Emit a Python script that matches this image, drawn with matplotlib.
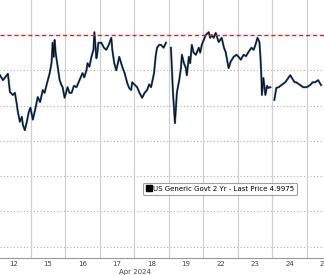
import numpy as np
import matplotlib.pyplot as plt

# trading days on the axis (each day takes one unit)
day_labels = ["12", "15", "16", "17", "18", "19", "22", "23", "24", "25"]

# intraday position (in day units) and yield
t = [0.107, 0.193, 0.308, 0.337, 0.395, 0.481, 0.539, 0.597, 0.625, 0.683,
     0.741, 0.769, 0.827, 0.885, 0.942, 0.99,
     1.058, 1.13, 1.202, 1.27, 1.346, 1.40, 1.461, 1.548, 1.60, 1.634, 1.663,
     1.692, 1.72, 1.778, 1.836, 1.88, 1.922, 1.98,
     2.066, 2.12, 2.182, 2.25, 2.326, 2.412, 2.499, 2.55, 2.614, 2.643, 2.70,
     2.758, 2.816, 2.844, 2.902, 2.931, 2.96,
     3.046, 3.12, 3.19, 3.26, 3.334, 3.363, 3.42, 3.478, 3.565, 3.651, 3.72,
     3.795, 3.85, 3.911, 3.939,
     4.084, 4.15, 4.228, 4.30, 4.372, 4.43, 4.487, 4.573, 4.62, 4.66, 4.72,
     4.775, 4.85, 4.919,
     None,
     5.063, 5.121, 5.179, 5.236, 5.30, 5.352, 5.38, 5.44, 5.496, 5.524, 5.582,
     5.62, 5.669, 5.72, 5.784, 5.87, 5.91, 5.957,
     6.072, 6.158, 6.20, 6.245, 6.30, 6.36, 6.447, 6.533, 6.60, 6.648, 6.735,
     6.793, 6.879, 6.965,
     7.023, 7.09, 7.167, 7.24, 7.311, 7.398, 7.46, 7.513, 7.571, 7.628, 7.657,
     7.686, 7.70, 7.744, 7.801, 7.85, 7.888, 7.945,
     None,
     8.06, 8.118, 8.19, 8.262, 8.377, 8.464, 8.521, 8.608, 8.65, 8.695, 8.81,
     8.896,
     9.00, 9.098, 9.17, 9.242, 9.329, 9.415]

yld = [4.993, 4.986, 4.993, 4.995, 4.969, 4.965, 4.968, 4.951, 4.941, 4.927,
       4.934, 4.923, 4.915, 4.927, 4.941, 4.947,
       4.930, 4.945, 4.962, 4.955, 4.972, 4.968, 4.980, 4.996, 5.010, 5.039, 5.019,
       5.043, 5.025, 5.005, 4.986, 4.980, 4.976, 4.961,
       4.976, 4.968, 4.968, 4.978, 4.976, 4.986, 4.996, 4.990, 5.000, 5.010, 5.005,
       5.019, 5.029, 5.054, 5.017, 5.025, 5.039,
       5.039, 5.032, 5.029, 5.036, 5.046, 5.029, 5.010, 5.000, 5.019, 5.005, 4.996,
       4.982, 4.975, 4.972, 4.983,
       4.976, 4.968, 4.961, 4.968, 4.972, 4.980, 4.976, 4.996, 5.020, 5.032, 5.036,
       5.036, 5.032, 5.039,
       np.nan,
       5.032, 4.969, 4.925, 4.969, 4.985, 5.003, 5.022, 5.010, 5.003, 4.993, 5.019,
       5.010, 5.036, 5.025, 5.022, 5.032, 5.025, 5.036,
       5.050, 5.054, 5.046, 5.050, 5.046, 5.053, 5.040, 5.046, 5.032, 5.026, 5.003,
       5.012, 5.019, 5.022,
       5.019, 5.015, 5.022, 5.020, 5.026, 5.032, 5.029, 5.036, 5.046, 5.040, 5.019,
       4.989, 4.965, 4.989, 4.965, 4.978, 4.975, 4.976,
       np.nan,
       4.958, 4.975, 4.976, 4.979, 4.983, 4.989, 4.993, 4.986, 4.983, 4.983, 4.979,
       4.976,
       4.976, 4.979, 4.983, 4.983, 4.986, 4.979]

t = [np.nan if v is None else v for v in t]

red_level = 5.05
y_grid = [4.75, 4.80, 4.85, 4.90, 4.95, 5.00, 5.05]

fig = plt.figure(figsize=(3.24, 2.75), dpi=100)
ax = fig.add_axes([0.0, 0.062, 1.0, 0.938])

ax.plot(t, yld, color="#3b6aa8", lw=1.5)
ax.plot(t, yld, color="#111111", lw=0.8)

ax.axhline(red_level, color="#cc2a2a", lw=1.0, ls=(0, (3, 2)), zorder=3)

for g in y_grid:
    if g != red_level:
        ax.axhline(g, color="#b0b0b0", lw=0.8, ls=(0, (1, 2)), zorder=0)
for k in range(1, len(day_labels)):
    ax.axvline(k, color="#d0d0d0", lw=0.9, zorder=0)

ax.set_xlim(0.107, 9.44)
ax.set_ylim(4.734, 5.0996)

ax.set_xticks(np.arange(len(day_labels)) + 0.5)
ax.set_xticklabels(day_labels, fontsize=5, color="#444444")
ax.tick_params(axis="x", length=0, pad=2)
ax.set_yticks([])
for s in ["top", "left", "right"]:
    ax.spines[s].set_visible(False)
ax.spines["bottom"].set_color("#999999")
ax.spines["bottom"].set_linewidth(0.8)

fig.text(135 / 324, 1 - 272 / 275, "Apr 2024", fontsize=5, color="#444444",
         ha="center", va="center")

leg = ax.legend([plt.Line2D([], [], color="black", marker="s", ls="none", ms=4)],
                ["US Generic Govt 2 Yr - Last Price 4.9975"],
                loc="upper left", bbox_to_anchor=(143 / 324, 1 - 183 / 258),
                fontsize=5, frameon=True, fancybox=True, handlelength=0.8,
                handletextpad=0.3, borderpad=0.4, borderaxespad=0)
leg.get_frame().set_edgecolor("#888888")
leg.get_frame().set_linewidth(0.8)

fig.savefig("out.png", dpi=100)
